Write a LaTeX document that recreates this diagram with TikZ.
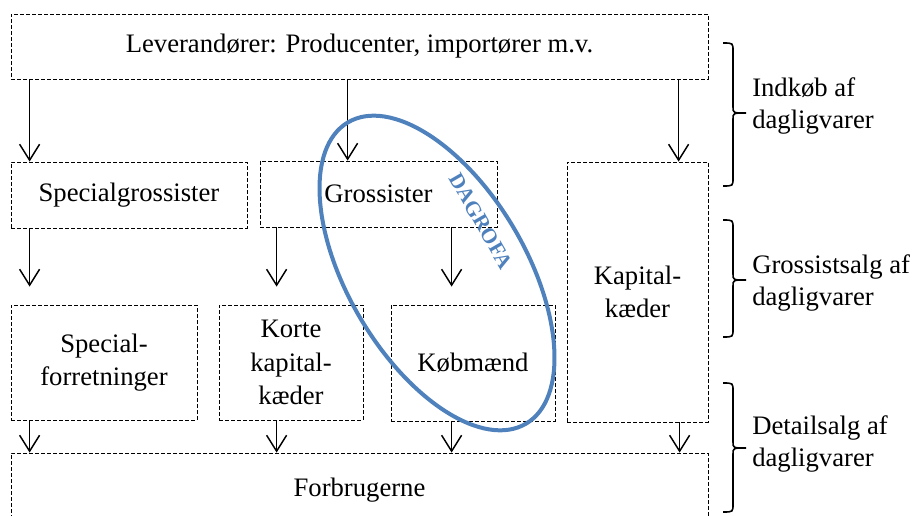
\documentclass[tikz,border=0pt]{standalone}
\usepackage{fontspec}
\setmainfont{Liberation Serif}
\usetikzlibrary{arrows.meta}
\definecolor{dagblaa}{HTML}{4F81BD}

\begin{document}
\begin{tikzpicture}[x=0.75pt, y=-0.75pt,
    boks/.style={draw, dash pattern=on 3pt off 1.5pt, line width=0.6pt, align=center, inner sep=0pt, font=\fontsize{20}{25}\selectfont},
    pil/.style={-{Straight Barb[length=12pt,width=15pt]}, line width=1.1pt},
    tekst/.style={anchor=west, align=left, inner sep=0pt, font=\fontsize{20}{24.5}\selectfont},
    klamme/.style={line width=1.2pt}]
    \useasboundingbox (0,0) rectangle (912,516);

    % kasserne
    \node[boks, minimum width=522.75pt, minimum height=48.75pt] (lev) at (359.5,46.5) {Leverandører: Producenter, importører m.v.};
    \node[boks, minimum width=177pt, minimum height=49.5pt] (spgros) at (129,195) {Specialgrossister};
    \node[boks, minimum width=177.75pt, minimum height=49.5pt] (gros) at (378.5,194) {Grossister};
    \node[boks, minimum width=105.75pt, minimum height=195pt] (kapk) at (637.5,292) {Kapital-\\kæder};
    \node[boks, minimum width=139.5pt, minimum height=86.25pt] (spfor) at (104,362.5) {Special-\\forretninger};
    \node[boks, minimum width=108pt, minimum height=86.25pt] (korte) at (291,362.5) {Korte\\kapital-\\kæder};
    \node[boks, minimum width=123pt, minimum height=87pt] (kob) at (473,363) {Købmænd};
    \node[boks, minimum width=522.75pt, minimum height=55.5pt] (forb) at (359.5,490) {Forbrugerne};

    % pile
    \draw[pil] ([xshift=14.25pt]spgros.north west |- lev.south) -- ([xshift=14.25pt]spgros.north west);
    \draw[pil] ([xshift=66pt]gros.north west |- lev.south) -- ([xshift=66pt]gros.north west);
    \draw[pil] ([xshift=84pt]kapk.north west |- lev.south) -- ([xshift=84pt]kapk.north west);
    \draw[pil, shorten >=13.5pt] ([xshift=14.25pt]spfor.north west |- spgros.south) -- ([xshift=14.25pt]spfor.north west);
    \draw[pil, shorten >=13.5pt] ([xshift=43.5pt]korte.north west |- gros.south) -- ([xshift=43.5pt]korte.north west);
    \draw[pil, shorten >=13.5pt] ([xshift=45.75pt]kob.north west |- gros.south) -- ([xshift=45.75pt]kob.north west);
    \draw[pil] ([xshift=14.25pt]spfor.south west) -- ([xshift=14.25pt]spfor.south west |- forb.north);
    \draw[pil] ([xshift=43.5pt]korte.south west) -- ([xshift=43.5pt]korte.south west |- forb.north);
    \draw[pil] ([xshift=45.75pt]kob.south west) -- ([xshift=45.75pt]kob.south west |- forb.north);
    \draw[pil] ([xshift=84.75pt]kapk.south west) -- ([xshift=84.75pt]kapk.south west |- forb.north);

    % DAGROFA
    \draw[dagblaa, line width=3pt, rotate around={30.6:(437,273)}] (437,273) ellipse [x radius=66.75pt, y radius=131.25pt];
    \node[text=dagblaa, font=\fontsize{16}{18}\selectfont\bfseries, rotate=-60] (dagrofa) at (481,221) {DAGROFA};

    % klammer
    \foreach \t/\m/\b in {43/113/186, 220/280/337, 383/448/512}
        \draw[klamme] (723,\t) .. controls (733,\t) .. (733,\t+8) -- (733,\m-6) .. controls (733,\m) .. (746,\m)
            .. controls (733,\m) .. (733,\m+6) -- (733,\b-8) .. controls (733,\b) .. (723,\b);
    \node[tekst] (indkob) at (752,106) {Indkøb af\\dagligvarer};
    \node[tekst] (grossalg) at (752,283) {Grossistsalg af\\dagligvarer};
    \node[tekst] (detail) at (752,444) {Detailsalg af\\dagligvarer};
\end{tikzpicture}
\end{document}
